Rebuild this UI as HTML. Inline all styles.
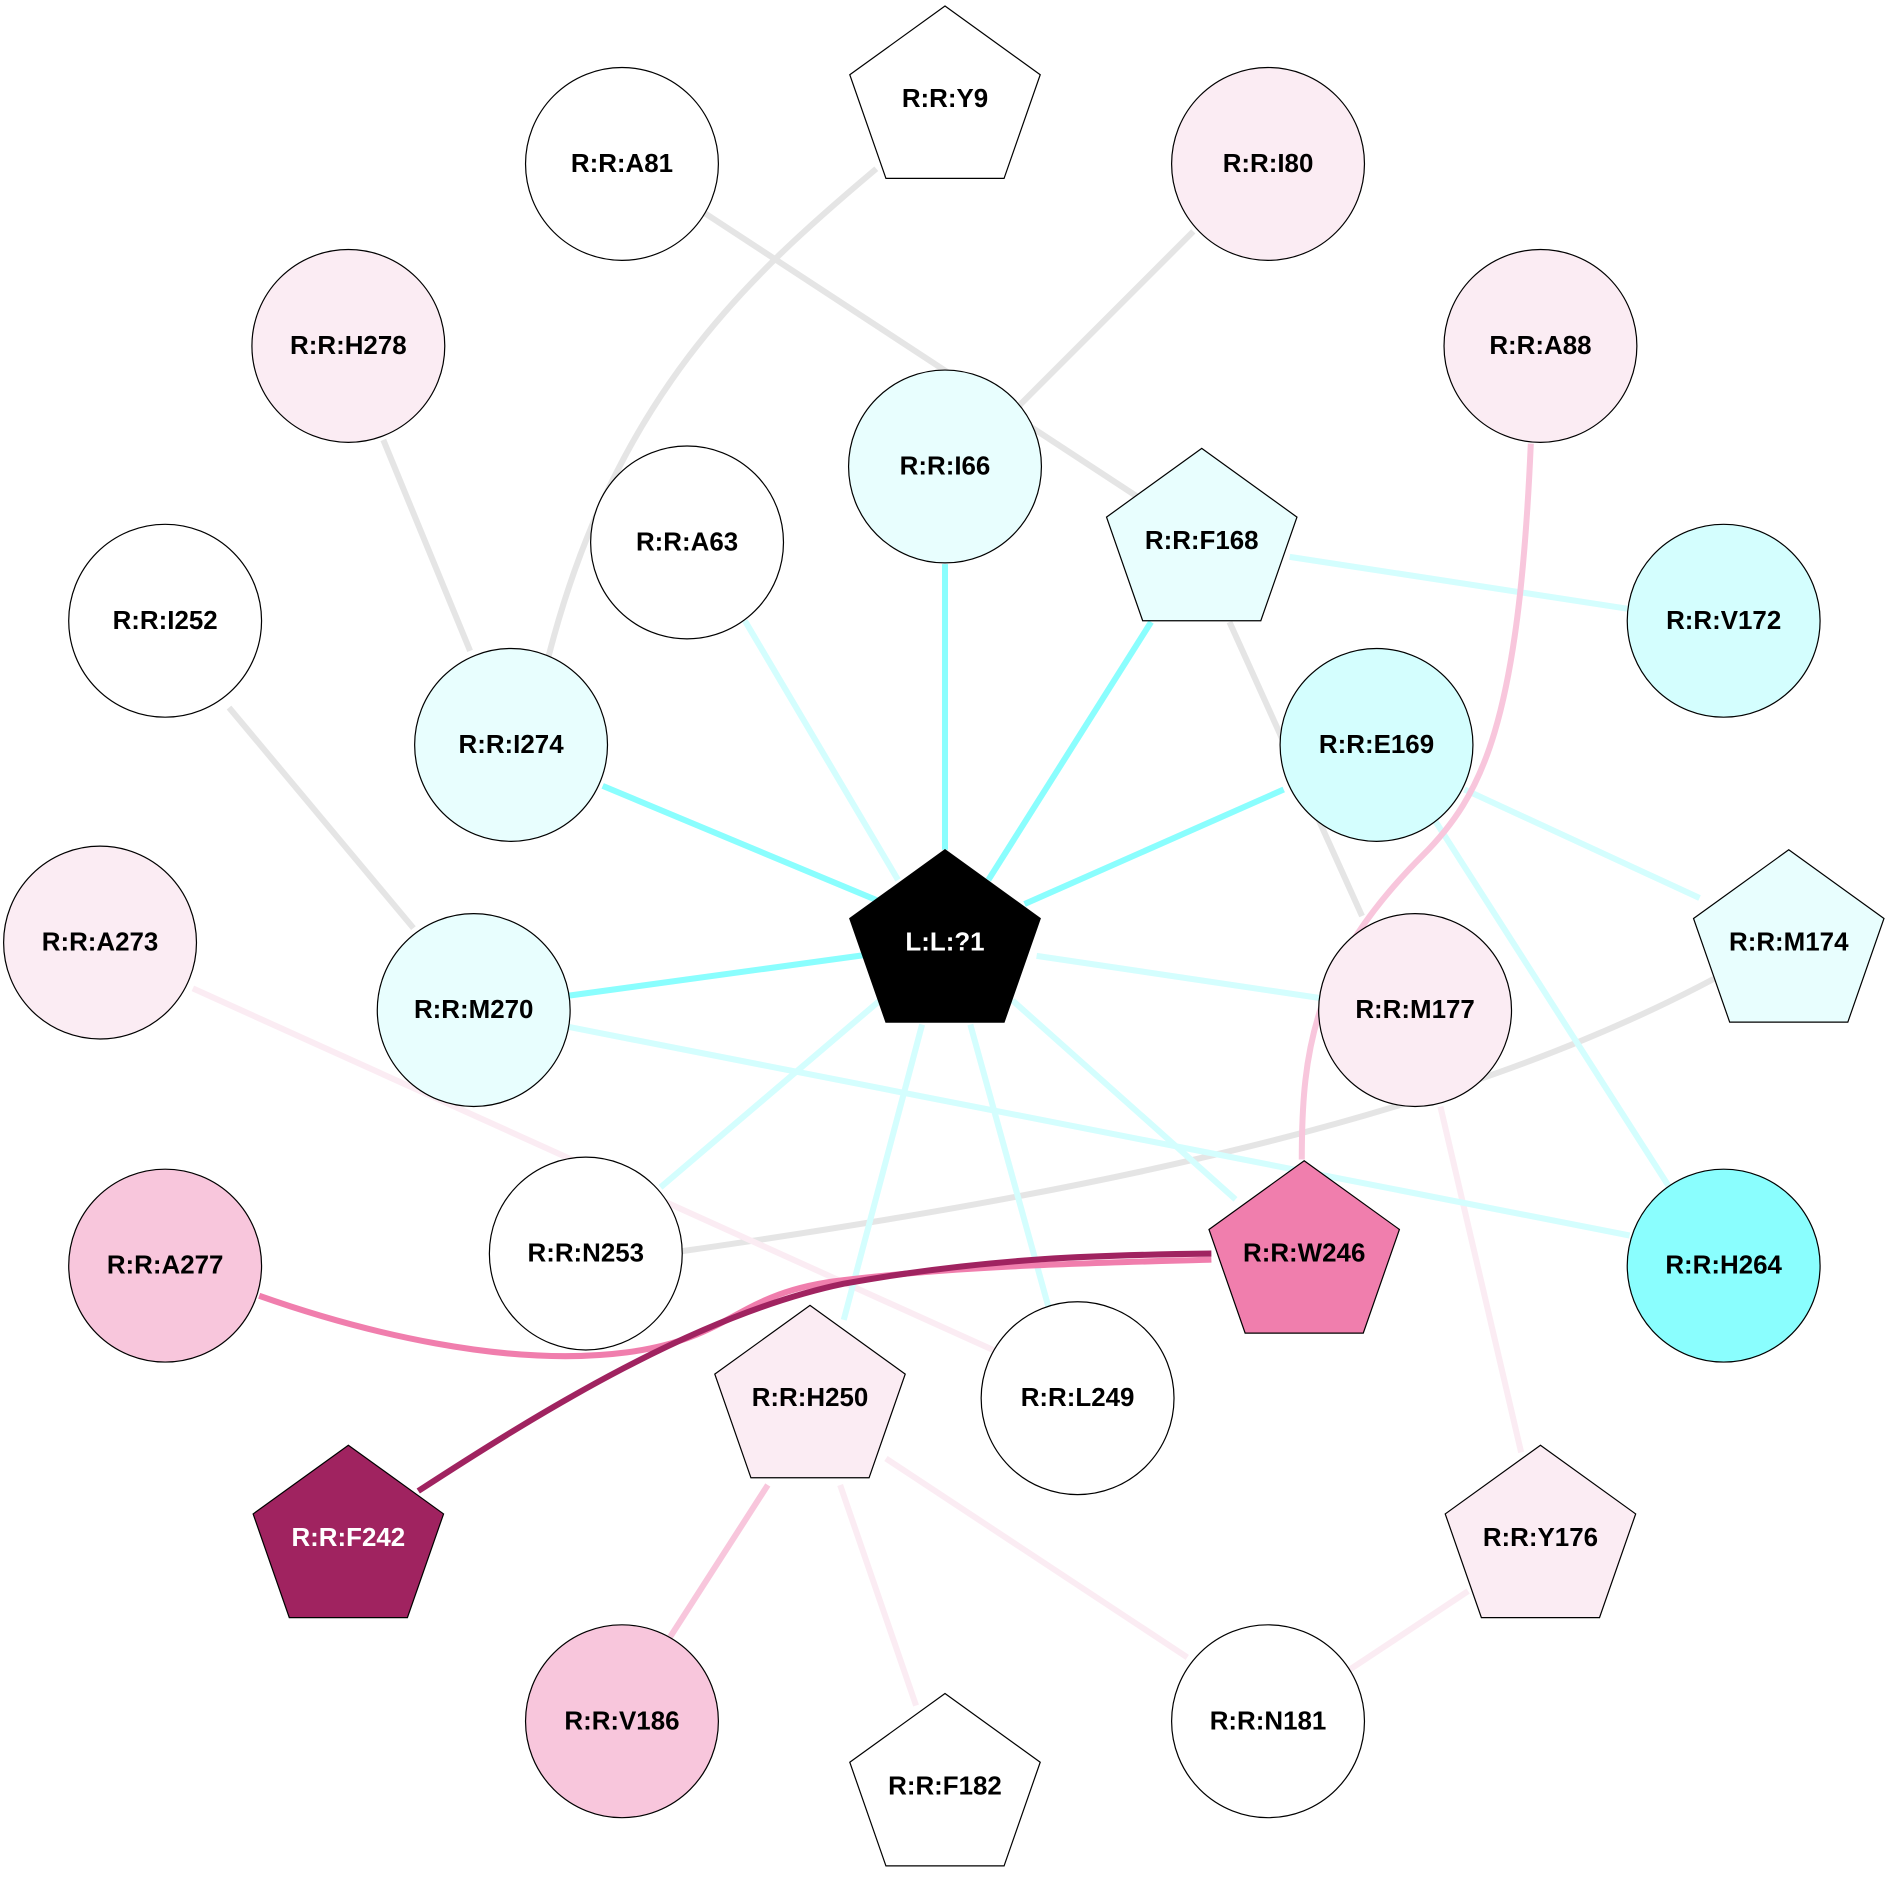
<!DOCTYPE html>
<html><head><meta charset="utf-8"><style>
html,body{margin:0;padding:0;background:#fff;}
svg{display:block;}
text{font-family:"Liberation Sans",Arial,sans-serif;font-weight:bold;font-size:21.5px;text-anchor:middle;dominant-baseline:central;}
</style></head><body>
<svg width="1890" height="1890" viewBox="0 0 1568 1568" xmlns="http://www.w3.org/2000/svg">
<rect width="1568" height="1568" fill="#fff"/>
<g fill="none" stroke-width="5" stroke-linecap="butt">
<g stroke="#e5e5e5">
<line x1="585" y1="177" x2="945" y2="413"/>
<path d="M727,140 C620,230 510,330 455,545"/>
<line x1="990" y1="192" x2="845" y2="337"/>
<line x1="318" y1="365" x2="390" y2="540"/>
<line x1="190" y1="587" x2="343" y2="770"/>
<line x1="1020" y1="516" x2="1130" y2="760"/>
<path d="M1422,812 C1200,930 900,990 566,1038"/>
</g>
<g stroke="#fbecf3">
<line x1="160" y1="820" x2="835" y2="1125"/>
<line x1="1195" y1="918" x2="1262" y2="1205"/>
<line x1="697" y1="1232" x2="760" y2="1415"/>
<line x1="735" y1="1210" x2="985" y2="1375"/>
<line x1="1218" y1="1320" x2="1120" y2="1385"/>
</g>
<g stroke="#d4fefe">
<line x1="618" y1="515" x2="745" y2="730"/>
<line x1="1070" y1="462" x2="1350" y2="505"/>
<line x1="1215" y1="655" x2="1410" y2="745"/>
<line x1="1190" y1="680" x2="1385" y2="985"/>
<line x1="860" y1="793" x2="1095" y2="828"/>
<line x1="730" y1="830" x2="548" y2="985"/>
<line x1="840" y1="830" x2="1025" y2="995"/>
<line x1="765" y1="850" x2="700" y2="1095"/>
<line x1="805" y1="850" x2="870" y2="1085"/>
<line x1="472" y1="852" x2="1352" y2="1025"/>
</g>
<g stroke="#8afefe">
<line x1="500" y1="652" x2="735" y2="750"/>
<line x1="784" y1="468" x2="784" y2="705"/>
<line x1="955" y1="516" x2="820" y2="730"/>
<line x1="1065" y1="655" x2="850" y2="750"/>
<line x1="472" y1="826" x2="720" y2="792"/>
</g>
<g stroke="#f8c6dc">
<path d="M1270,368 C1260,600 1230,660 1180,710 C1090,800 1080,870 1080,962"/>
<line x1="637" y1="1232" x2="556" y2="1358"/>
</g>
<path stroke="#f07ead" d="M215,1075 C300,1105 420,1135 520,1122 C610,1110 610,1072 700,1062 C800,1050 900,1048 1005,1045"/>
<path stroke="#a02360" d="M347,1237 C450,1170 580,1090 700,1065 C820,1043 920,1041 1005,1040"/>
</g>
<g stroke="#000" stroke-width="1">
<circle cx="516" cy="136" r="80" fill="#fff"/>
<circle cx="1052" cy="136" r="80" fill="#fbecf3"/>
<circle cx="289" cy="287" r="80" fill="#fbecf3"/>
<circle cx="1278" cy="287" r="80" fill="#fbecf3"/>
<circle cx="784" cy="387" r="80" fill="#e8fefe"/>
<circle cx="570" cy="450" r="80" fill="#fff"/>
<circle cx="137" cy="515" r="80" fill="#fff"/>
<circle cx="1430" cy="515" r="80" fill="#d4fefe"/>
<circle cx="424" cy="618" r="80" fill="#e8fefe"/>
<circle cx="1142" cy="618" r="80" fill="#d4fefe"/>
<circle cx="83" cy="782" r="80" fill="#fbecf3"/>
<circle cx="393" cy="838" r="80" fill="#e8fefe"/>
<circle cx="1174" cy="838" r="80" fill="#fbecf3"/>
<circle cx="486" cy="1040" r="80" fill="#fff"/>
<circle cx="137" cy="1050" r="80" fill="#f8c6dc"/>
<circle cx="1430" cy="1050" r="80" fill="#8afefe"/>
<circle cx="894" cy="1160" r="80" fill="#fff"/>
<circle cx="516" cy="1428" r="80" fill="#f8c6dc"/>
<circle cx="1052" cy="1428" r="80" fill="#fff"/>
<polygon fill="#fff" points="784,5 863,62 833,148 735,148 705,62"/>
<polygon fill="#e8fefe" points="997,372 1076,429 1046,515 948,515 918,429"/>
<polygon fill="#000" points="784,705 863,762 833,848 735,848 705,762"/>
<polygon fill="#e8fefe" points="1484,705 1563,762 1533,848 1435,848 1405,762"/>
<polygon fill="#f07ead" points="1082,963 1161,1020 1131,1106 1033,1106 1003,1020"/>
<polygon fill="#fbecf3" points="672,1083 751,1140 721,1226 623,1226 593,1140"/>
<polygon fill="#a02360" points="289,1199 368,1256 338,1342 240,1342 210,1256"/>
<polygon fill="#fbecf3" points="1278,1199 1357,1256 1327,1342 1229,1342 1199,1256"/>
<polygon fill="#fff" points="784,1405 863,1462 833,1548 735,1548 705,1462"/>
</g>
<g fill="#000">
<text x="516" y="136">R:R:A81</text>
<text x="1052" y="136">R:R:I80</text>
<text x="289" y="287">R:R:H278</text>
<text x="1278" y="287">R:R:A88</text>
<text x="784" y="387">R:R:I66</text>
<text x="570" y="450">R:R:A63</text>
<text x="137" y="515">R:R:I252</text>
<text x="1430" y="515">R:R:V172</text>
<text x="424" y="618">R:R:I274</text>
<text x="1142" y="618">R:R:E169</text>
<text x="83" y="782">R:R:A273</text>
<text x="393" y="838">R:R:M270</text>
<text x="1174" y="838">R:R:M177</text>
<text x="486" y="1040">R:R:N253</text>
<text x="137" y="1050">R:R:A277</text>
<text x="1430" y="1050">R:R:H264</text>
<text x="894" y="1160">R:R:L249</text>
<text x="516" y="1428">R:R:V186</text>
<text x="1052" y="1428">R:R:N181</text>
<text x="784" y="82">R:R:Y9</text>
<text x="997" y="449">R:R:F168</text>
<text x="784" y="782" fill="#fff">L:L:?1</text>
<text x="1484" y="782">R:R:M174</text>
<text x="1082" y="1040">R:R:W246</text>
<text x="672" y="1160">R:R:H250</text>
<text x="289" y="1276" fill="#fff">R:R:F242</text>
<text x="1278" y="1276">R:R:Y176</text>
<text x="784" y="1482">R:R:F182</text>
</g>
</svg>
</body></html>
